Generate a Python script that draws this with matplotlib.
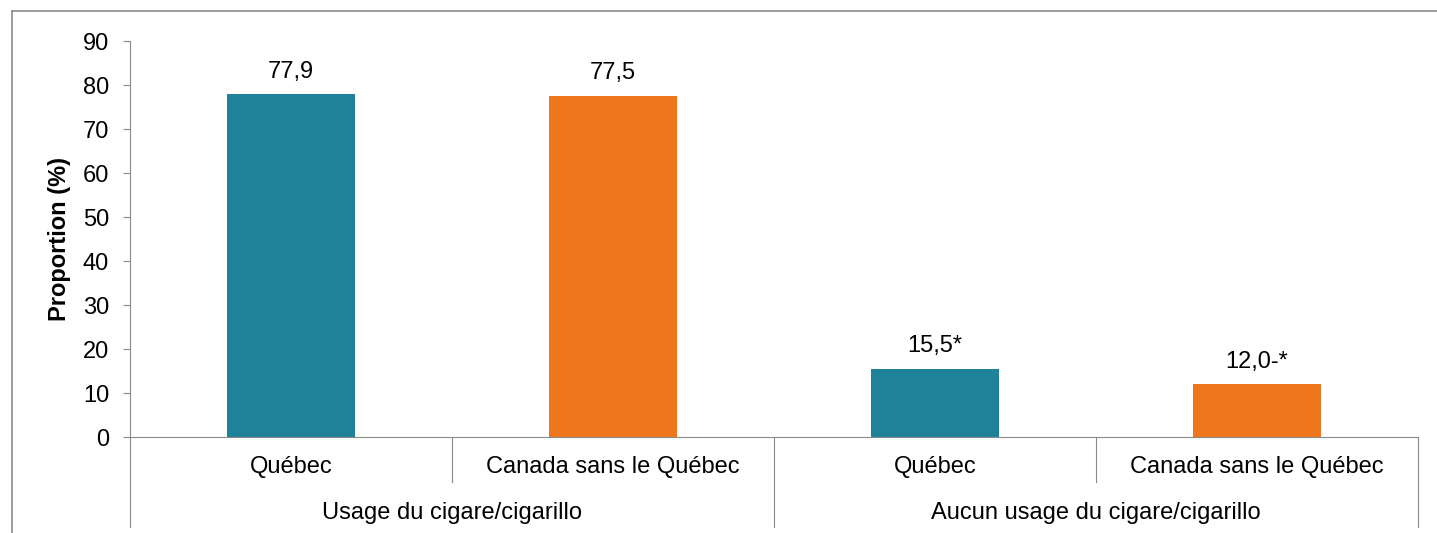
import matplotlib.pyplot as plt
from matplotlib.lines import Line2D

# data
groups = ["Usage du cigare/cigarillo", "Aucun usage du cigare/cigarillo"]
regions = ["Québec", "Canada sans le Québec", "Québec", "Canada sans le Québec"]
values = [77.9, 77.5, 15.5, 12.0]
value_labels = ["77,9", "77,5", "15,5*", "12,0-*"]
yticks = [0, 10, 20, 30, 40, 50, 60, 70, 80, 90]

teal = "#1f8299"
orange = "#ef761c"
bar_colors = [teal, orange, teal, orange]
grey = "#8a8a8a"

plt.rcParams['font.family'] = ['Liberation Sans', 'DejaVu Sans']
fs = 17

W, H = 1437, 533
fig = plt.figure(figsize=(W / 100, H / 100), dpi=100)

# axes box in pixels
x0, x1 = 130, 1418
y0, y1 = 437, 41
ax = fig.add_axes([x0 / W, 1 - y0 / H, (x1 - x0) / W, (y0 - y1) / H])

pos = [i + 0.5 for i in range(len(values))]
ax.bar(pos, values, width=0.4, color=bar_colors)
for p, v, lab in zip(pos, values, value_labels):
    ax.annotate(lab, (p, v), xytext=(0, 12), textcoords="offset points",
                ha="center", va="baseline", fontsize=fs)

ax.set_xlim(0, len(values))
ax.set_ylim(0, 90)
ax.set_yticks(yticks)
ax.set_xticks([])
ax.tick_params(axis="y", labelsize=fs, length=5, width=0.8, color=grey, pad=10)
for s in ["top", "right"]:
    ax.spines[s].set_visible(False)
for s in ["left", "bottom"]:
    ax.spines[s].set_color(grey)
    ax.spines[s].set_linewidth(0.8)

ax.set_ylabel("Proportion (%)", fontsize=fs, fontweight="bold")
ax.yaxis.set_label_coords(-0.046, 0.5)

# category axis (two levels)
ah = y0 - y1
trans = ax.get_xaxis_transform()
short = -45 / ah
long_ = -90 / ah
for i in range(len(values) + 1):
    bottom = long_ if i % 2 == 0 else short
    ax.plot([i, i], [0, bottom], transform=trans, color=grey, lw=0.8, clip_on=False)
for p, r in zip(pos, regions):
    ax.text(p, -30 / ah, r, transform=trans, ha="center", va="center", fontsize=fs)
for g, name in enumerate(groups):
    ax.text(2 * g + 1, -76 / ah, name, transform=trans, ha="center", va="center", fontsize=fs)

# outer frame (top and left edges)
fig.add_artist(Line2D([12 / W, 1], [1 - 11 / H, 1 - 11 / H], transform=fig.transFigure,
                      color="#8c8c8c", lw=1.2))
fig.add_artist(Line2D([12 / W, 12 / W], [0, 1 - 11 / H], transform=fig.transFigure,
                      color="#8c8c8c", lw=1.2))

fig.savefig("out.png", dpi=100)
